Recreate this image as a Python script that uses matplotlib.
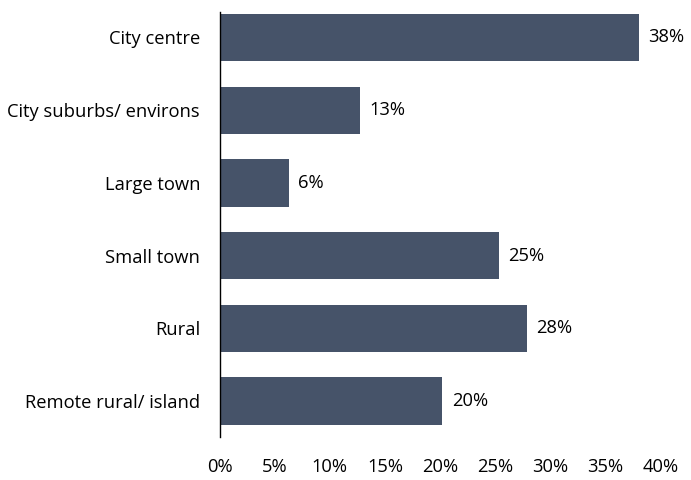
import matplotlib.pyplot as plt

categories = ["City centre", "City suburbs/ environs", "Large town",
              "Small town", "Rural", "Remote rural/ island"]
values = [38.0, 12.7, 6.3, 25.3, 27.9, 20.2]
xticks = [0, 5, 10, 15, 20, 25, 30, 35, 40]

bar_color = "#465369"
plt.rcParams["font.family"] = ["Open Sans", "DejaVu Sans"]
fs = 13.2

fig = plt.figure(figsize=(6.91, 4.8), dpi=100)
ax = fig.add_axes([0.3177, 0.0896, 0.6383, 0.8854])

pos = list(range(len(categories)))
ax.barh(pos, values, height=0.65, color=bar_color)
for p, v in zip(pos, values):
    ax.text(v + 0.85, p, f"{round(v)}%", va="center", ha="left", fontsize=fs)

ax.set_ylim(5.495, -0.35)
ax.set_xlim(0, 40)
ax.set_yticks(pos)
ax.set_yticklabels(categories, fontsize=fs)
ax.set_xticks(xticks)
ax.set_xticklabels([f"{t}%" for t in xticks], fontsize=fs)
ax.tick_params(axis="y", length=0, pad=14)
ax.tick_params(axis="x", length=0, pad=15)
for s in ["top", "right", "bottom"]:
    ax.spines[s].set_visible(False)
ax.spines["left"].set_linewidth(1.0)

fig.savefig("out.png", dpi=100)
